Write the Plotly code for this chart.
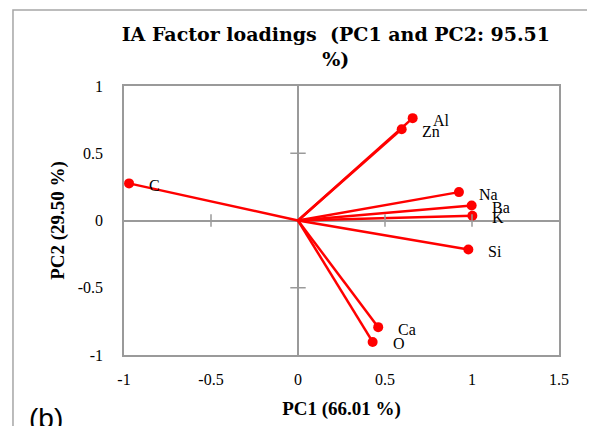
import plotly.graph_objects as go

elements = ["C", "Al", "Zn", "Na", "Ba", "K", "Si", "Ca", "O"]
pc1 = [-0.971, 0.659, 0.596, 0.925, 0.998, 1.002, 0.979, 0.461, 0.429]
pc2 = [0.276, 0.761, 0.679, 0.211, 0.112, 0.035, -0.216, -0.793, -0.903]

x_ticks = [-1, -0.5, 0, 0.5, 1, 1.5]
x_tick_text = ["-1", "-0.5", "0", "0.5", "1", "1.5"]
y_ticks = [-1, -0.5, 0, 0.5, 1]
y_tick_text = ["-1", "-0.5", "0", "0.5", "1"]

title_text = "IA Factor loadings  (PC1 and PC2: 95.51<br>%)"
x_title = "PC1 (66.01 %)"
y_title = "PC2 (29.50 %)"
panel_label = "(b)"

serif = "Liberation Serif, Times New Roman, serif"
title_serif = "DejaVu Serif, serif"
grey = "#9a9a9a"
red = "#ff0000"

fig = go.Figure()

# vectors from origin
lx, ly = [], []
for a, b in zip(pc1, pc2):
    lx += [0, a, None]
    ly += [0, b, None]
fig.add_trace(go.Scatter(x=lx, y=ly, mode="lines",
                         line=dict(color=red, width=2.5), hoverinfo="skip"))
fig.add_trace(go.Scatter(x=pc1, y=pc2, mode="markers",
                         marker=dict(color=red, size=10), text=elements))

# tick marks on the zero axes
inner_x = [t for t in x_ticks if t not in (0, x_ticks[0], x_ticks[-1])]
inner_y = [t for t in y_ticks if t not in (0, y_ticks[0], y_ticks[-1])]
fig.add_trace(go.Scatter(x=inner_x, y=[0] * len(inner_x), mode="markers",
                         marker=dict(symbol="line-ns", size=9,
                                     line=dict(color=grey, width=1.5)),
                         hoverinfo="skip"))
fig.add_trace(go.Scatter(x=[0] * len(inner_y), y=inner_y, mode="markers",
                         marker=dict(symbol="line-ew", size=11,
                                     line=dict(color=grey, width=1.5)),
                         hoverinfo="skip"))

annotations = []
for name, a, b in zip(elements, pc1, pc2):
    annotations.append(dict(x=a, y=b, text=name, showarrow=False,
                            xanchor="left", yanchor="middle", xshift=18, yshift=-2,
                            font=dict(family=serif, size=16, color="black")))
annotations.append(dict(x=-0.223, y=-0.172, xref="paper", yref="paper",
                        text=panel_label, showarrow=False,
                        xanchor="left", yanchor="top",
                        font=dict(family="Liberation Sans, Arial, sans-serif",
                                  size=28, color="black")))

fig.update_layout(
    width=595, height=426,
    margin=dict(l=116, r=44, t=78, b=79, autoexpand=False),
    paper_bgcolor="white", plot_bgcolor="white",
    showlegend=False,
    title=dict(text=title_text, x=0.487, xref="paper", xanchor="center",
               y=0.923, yanchor="top",
               font=dict(family=title_serif, size=19, color="black", weight="bold")),
    annotations=annotations,
    shapes=[dict(type="rect", xref="paper", yref="paper",
                 x0=-0.2552, x1=1.5, y0=-0.6, y1=1.2825,
                 line=dict(color="#a6a6a6", width=1.5), layer="below")],
)
fig.update_xaxes(range=[-1, 1.5], tickvals=x_ticks, ticktext=x_tick_text,
                 automargin=False,
                 showgrid=False, zeroline=True, zerolinecolor=grey, zerolinewidth=2,
                 showline=True, linecolor=grey, linewidth=1.5, mirror=True,
                 ticks="", ticklabelstandoff=9,
                 tickfont=dict(family=serif, size=16, color="black"),
                 title=dict(text=x_title, standoff=15,
                            font=dict(family=serif, size=19, color="black", weight="bold")))
fig.update_yaxes(range=[-1, 1], tickvals=y_ticks, ticktext=y_tick_text,
                 automargin=False,
                 showgrid=False, zeroline=True, zerolinecolor=grey, zerolinewidth=2,
                 showline=True, linecolor=grey, linewidth=1.5, mirror=True,
                 ticks="", ticklabelstandoff=16,
                 tickfont=dict(family=serif, size=16, color="black"),
                 title=dict(text=y_title, standoff=8,
                            font=dict(family=serif, size=19, color="black", weight="bold")))

fig.write_html("out.html")
